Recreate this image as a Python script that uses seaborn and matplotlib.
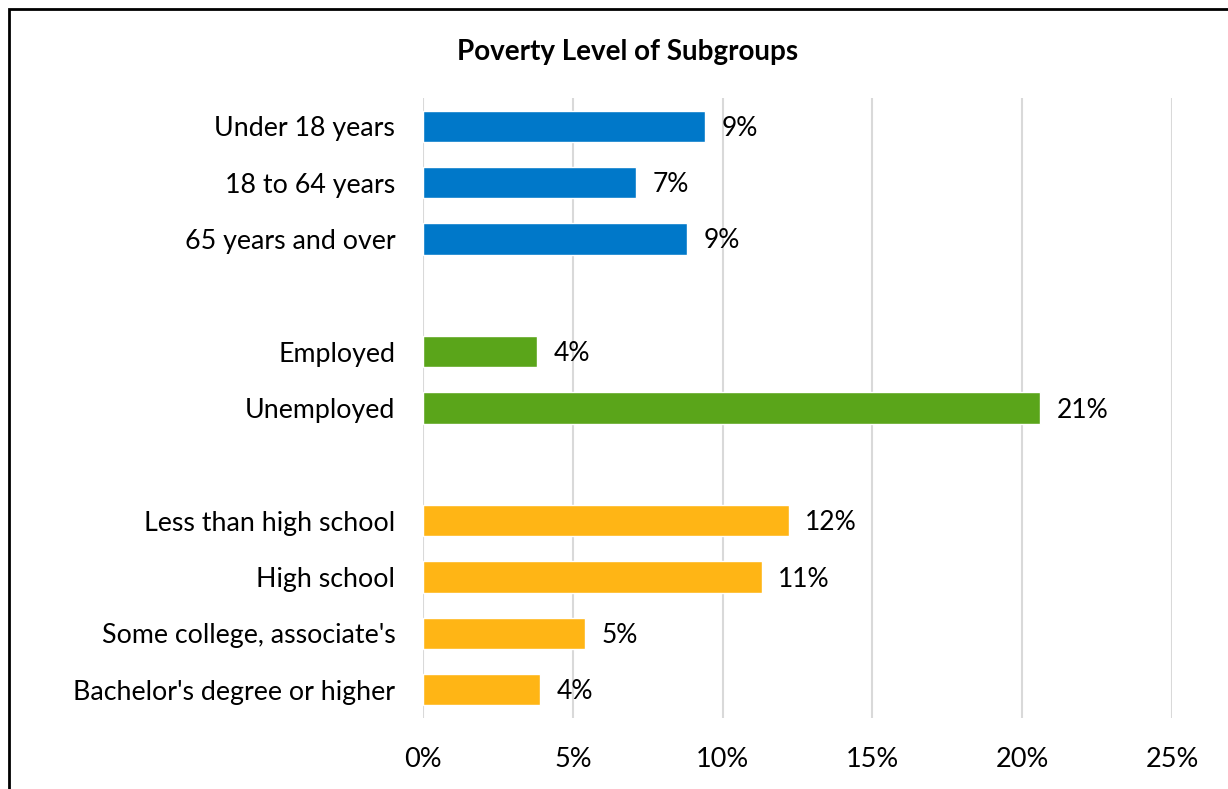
import pandas as pd
import seaborn as sns
import matplotlib.pyplot as plt
from matplotlib.patches import Rectangle

# values (percent)
age_labels = ['Under 18 years', '18 to 64 years', '65 years and over']
age_values = [9.4, 7.1, 8.8]

work_labels = ['Employed', 'Unemployed']
work_values = [3.8, 20.6]

edu_labels = ['Less than high school', 'High school',
              "Some college, associate's", "Bachelor's degree or higher"]
edu_values = [12.2, 11.3, 5.4, 3.9]

x_ticks = [0, 5, 10, 15, 20, 25]

df = pd.DataFrame({
    'Subgroup': age_labels + work_labels + edu_labels,
    'Poverty': age_values + work_values + edu_values,
    'Group': ['Age'] * 3 + ['Employment'] * 2 + ['Education'] * 4,
})

# blank slots between the groups
order = age_labels + [' '] + work_labels + ['  '] + edu_labels
palette = {'Age': '#0078C9', 'Employment': '#5AA51A', 'Education': '#FFB515'}

sns.set_theme(style='white')
plt.rcParams['font.family'] = ['Lato', 'DejaVu Sans']
plt.rcParams['text.color'] = 'black'

fig = plt.figure(figsize=(12.28, 7.89), dpi=100)
ax = fig.add_axes([0.3445, 0.09, 0.6099, 0.7858])

sns.barplot(data=df, x='Poverty', y='Subgroup', hue='Group', order=order,
            palette=palette, width=0.555, legend=False, ax=ax, saturation=1)

ax.set_xlim(0, 25)
ax.set_ylim(10.5, -0.5)
ax.set_xticks(x_ticks)
ax.set_xticklabels([f'{t}%' for t in x_ticks])
ax.set_xlabel('')
ax.set_ylabel('')
ax.tick_params(axis='x', length=0, pad=21, labelsize=19.5, colors='black')
ax.tick_params(axis='y', length=0, pad=20, labelsize=19.3, colors='black')

ax.xaxis.grid(True, color='#D9D9D9', linewidth=1.5)
ax.yaxis.grid(False)
ax.set_axisbelow(True)
sns.despine(ax=ax, left=True, bottom=True)

# value labels at bar ends
for p in ax.patches:
    w = p.get_width()
    if w > 0:
        ax.annotate(f'{w:.0f}%', (w, p.get_y() + p.get_height() / 2),
                    xytext=(12, -1.5), textcoords='offset points',
                    ha='left', va='center', fontsize=19, color='black')

fig.text(628 / 1228, 1 - 52 / 789, 'Poverty Level of Subgroups',
         ha='center', va='center', fontsize=20, fontweight='bold',
         color='black')

# chart border
fig.patches.append(Rectangle((8.5 / 1228, -0.1), 1.2, 1 - 9.5 / 789 + 0.1,
                             transform=fig.transFigure, fill=False,
                             edgecolor='black', linewidth=2, zorder=10))

fig.savefig('out.png', dpi=100)
